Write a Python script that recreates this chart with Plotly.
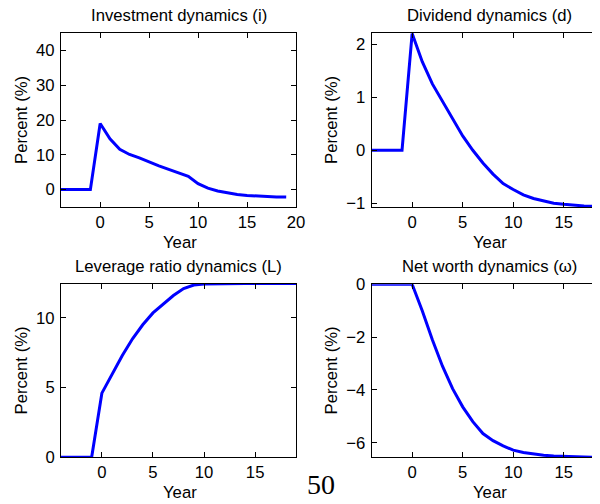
import plotly.graph_objects as go

W, H = 600, 504
OFF = 8  # browser default body margin shifts the figure by this many pixels

years = list(range(-4, 20))
investment = [0, 0, 0, 0, 19.0, 14.6, 11.6, 10.1, 9.1, 7.9, 6.8, 5.8, 4.9, 3.8, 1.7, 0.4,
              -0.4, -1.0, -1.4, -1.7, -1.9, -2.0, -2.1, -2.15]
dividend = [0, 0, 0, 0, 2.2, 1.67, 1.25, 0.93, 0.6, 0.27, 0.0, -0.24, -0.45, -0.63, -0.74,
            -0.84, -0.91, -0.96, -1.0, -1.02, -1.04, -1.05, -1.06, -1.065]
leverage = [0, 0, 0, 0, 4.6, 6.0, 7.3, 8.5, 9.5, 10.35, 11.0, 11.6, 12.1, 12.35, 12.43,
            12.45, 12.46, 12.46, 12.46, 12.46, 12.46, 12.46, 12.46, 12.46]
networth = [0, 0, 0, 0, 0, -1.0, -2.1, -3.1, -3.95, -4.64, -5.2, -5.65, -5.92, -6.12, -6.28,
            -6.37, -6.43, -6.47, -6.5, -6.52, -6.53, -6.54, -6.55, -6.55]

titles = ["Investment dynamics (i)", "Dividend dynamics (d)",
          "Leverage ratio dynamics (L)", "Net worth dynamics (\u03c9)"]
x_label = "Year"
y_label = "Percent (%)"
page_number = "50"

FONT = "Liberation Sans, Arial, Helvetica, sans-serif"
FS = 16.7
BLUE = "rgb(0,0,255)"


def px_x(p):
    return (p - OFF) / W


def px_y(p):
    return 1 - (p - OFF) / H


# panel boxes in screen pixels: (left, right, top, bottom)
boxes = [
    (61, 296, 33, 207),
    (371.7, 600, 33, 207),
    (61, 296, 283.5, 457.3),
    (371.7, 600, 284.3, 457.3),
]
xranges = [[-4, 20], [-4, 18.58], [-4, 19], [-4, 18.58]]
yranges = [[-5, 45], [-1.07, 2.21], [0, 12.46], [-6.55, 0]]
ydticks = [10, 1, 5, 2]
series = [investment, dividend, leverage, networth]

fig = go.Figure()
layout = dict(
    width=W, height=H,
    margin=dict(l=0, r=0, t=0, b=0, pad=0),
    paper_bgcolor="white", plot_bgcolor="white",
    showlegend=False,
    font=dict(family=FONT, size=FS, color="black"),
)

annotations = []
for i in range(4):
    n = "" if i == 0 else str(i + 1)
    l, r, t, b = boxes[i]
    right_panel = i in (1, 3)
    fig.add_trace(go.Scatter(x=years, y=series[i], mode="lines",
                             line=dict(color=BLUE, width=3),
                             xaxis="x" + n, yaxis="y" + n, hoverinfo="skip"))
    layout["xaxis" + n] = dict(
        domain=[px_x(l), min(1.0, px_x(r))], range=xranges[i], anchor="y" + n,
        tick0=0, dtick=5, ticks="inside", ticklen=5, tickwidth=1, tickcolor="black",
        showline=True, linecolor="black", linewidth=1, mirror="ticks",
        showgrid=False, zeroline=False, tickfont=dict(size=FS, family=FONT),
        ticklabelstandoff=0, automargin=False,
    )
    layout["yaxis" + n] = dict(
        domain=[px_y(b), px_y(t)], range=yranges[i], anchor="x" + n,
        tick0=0, dtick=ydticks[i], ticks="inside", ticklen=5, tickwidth=1, tickcolor="black",
        showline=True, linecolor="black", linewidth=1,
        mirror=False if right_panel else "ticks",
        showgrid=False, zeroline=False, tickfont=dict(size=FS, family=FONT),
        ticklabelstandoff=2, automargin=False,
    )
    top_row = i < 2
    cx_title = 178.5 if not right_panel else 489
    cy_title = 16 if top_row else 266
    annotations.append(dict(text=titles[i], x=px_x(cx_title), y=px_y(cy_title),
                            xref="paper", yref="paper", showarrow=False,
                            xanchor="center", yanchor="middle",
                            font=dict(size=FS, family=FONT)))
    cx_year = 180 if not right_panel else 490
    cy_year = 242.5 if top_row else 492.5
    annotations.append(dict(text=x_label, x=px_x(cx_year), y=px_y(cy_year),
                            xref="paper", yref="paper", showarrow=False,
                            xanchor="center", yanchor="middle",
                            font=dict(size=FS, family=FONT)))
    cx_ylab = 21 if not right_panel else 331
    cy_ylab = 120 if top_row else 370.5
    annotations.append(dict(text=y_label, x=px_x(cx_ylab), y=px_y(cy_ylab),
                            xref="paper", yref="paper", showarrow=False,
                            xanchor="center", yanchor="middle", textangle=-90,
                            font=dict(size=FS, family=FONT)))

annotations.append(dict(text=page_number, x=px_x(320.5), y=px_y(484),
                        xref="paper", yref="paper", showarrow=False,
                        xanchor="center", yanchor="middle",
                        font=dict(size=28, family="Liberation Serif, Times New Roman, serif")))
layout["annotations"] = annotations
fig.update_layout(**layout)
fig.write_html("out.html")
